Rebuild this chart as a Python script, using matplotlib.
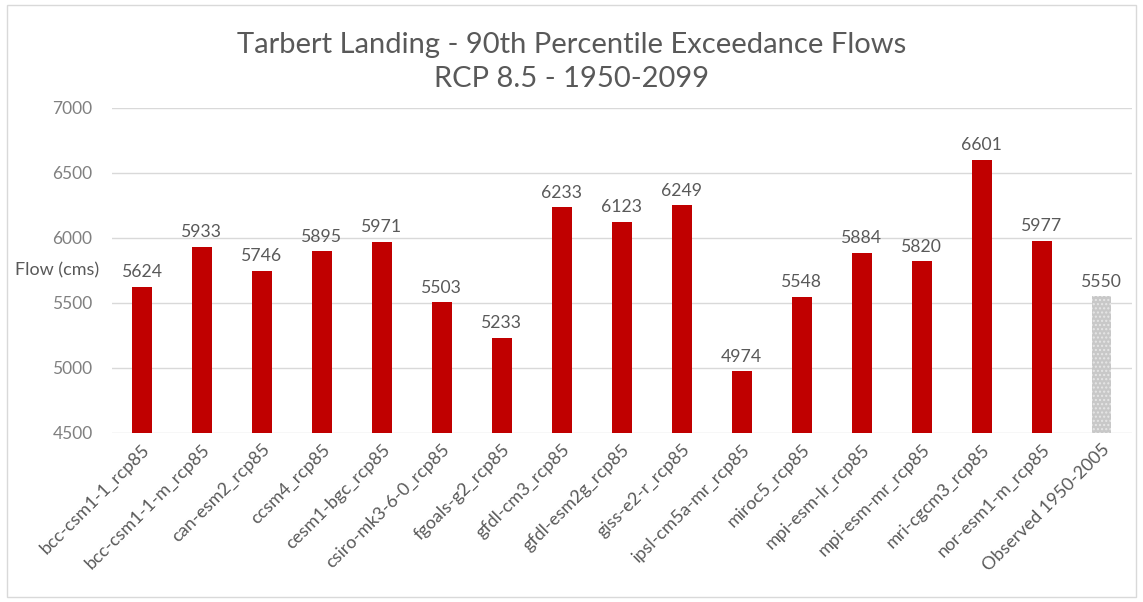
import matplotlib.pyplot as plt
import numpy as np
from matplotlib.patches import Rectangle

# model runs + observed record, 90th percentile exceedance flows (cms)
models = ['bcc-csm1-1_rcp85', 'bcc-csm1-1-m_rcp85', 'can-esm2_rcp85', 'ccsm4_rcp85',
          'cesm1-bgc_rcp85', 'csiro-mk3-6-0_rcp85', 'fgoals-g2_rcp85', 'gfdl-cm3_rcp85',
          'gfdl-esm2g_rcp85', 'giss-e2-r_rcp85', 'ipsl-cm5a-mr_rcp85', 'miroc5_rcp85',
          'mpi-esm-lr_rcp85', 'mpi-esm-mr_rcp85', 'mri-cgcm3_rcp85', 'nor-esm1-m_rcp85',
          'Observed 1950-2005']
flows = [5624, 5933, 5746, 5895, 5971, 5503, 5233, 6233, 6123, 6249,
         4974, 5548, 5884, 5820, 6601, 5977, 5550]
yticks = [4500, 5000, 5500, 6000, 6500, 7000]

plt.rcParams['font.family'] = ['Lato', 'DejaVu Sans']
txt = '#595959'

fig = plt.figure(figsize=(11.43, 6.02), dpi=100)
fig.patches.append(Rectangle((0.006, 0.008), 0.988, 0.984, transform=fig.transFigure,
                             fill=False, edgecolor='#D9D9D9', linewidth=1))
ax = fig.add_axes([0.098, 0.281, 0.892, 0.54])

x = np.arange(len(flows))
colors = ['#C00000'] * (len(flows) - 1) + ['#C8C8C8']
bars = ax.bar(x, flows, width=0.33, color=colors, zorder=2)
bars[-1].set_hatch('....')
bars[-1].set_edgecolor('#E6E6E6')
bars[-1].set_linewidth(0)

for xi, v in zip(x, flows):
    ax.text(xi, v + 50, str(v), ha='center', va='bottom', fontsize=12.7, color=txt)

ax.set_ylim(4500, 7000)
ax.set_xlim(-0.5, len(flows) - 0.5)
ax.set_yticks(yticks)
ax.set_yticklabels([str(t) for t in yticks], fontsize=12.5, color='#808080')
ax.set_xticks(x)
ax.set_xticklabels(models, rotation=45, ha='right', rotation_mode='anchor',
                   fontsize=13, color=txt)
ax.tick_params(length=0, axis='y', pad=14)
ax.tick_params(length=0, axis='x', pad=6)
ax.grid(axis='y', color='#D9D9D9', linewidth=1, zorder=0)
for s in ax.spines.values():
    s.set_visible(False)

ax.set_ylabel('Flow (cms)', rotation=0, fontsize=13, color=txt, va='center', ha='center')
ax.yaxis.set_label_coords(-0.054, 0.5)

fig.text(0.5, 0.926, 'Tarbert Landing - 90th Percentile Exceedance Flows',
         ha='center', va='center', fontsize=21, color=txt)
fig.text(0.5, 0.869, 'RCP 8.5 - 1950-2099', ha='center', va='center',
         fontsize=21, color=txt)

fig.savefig('out.png', dpi=100)
